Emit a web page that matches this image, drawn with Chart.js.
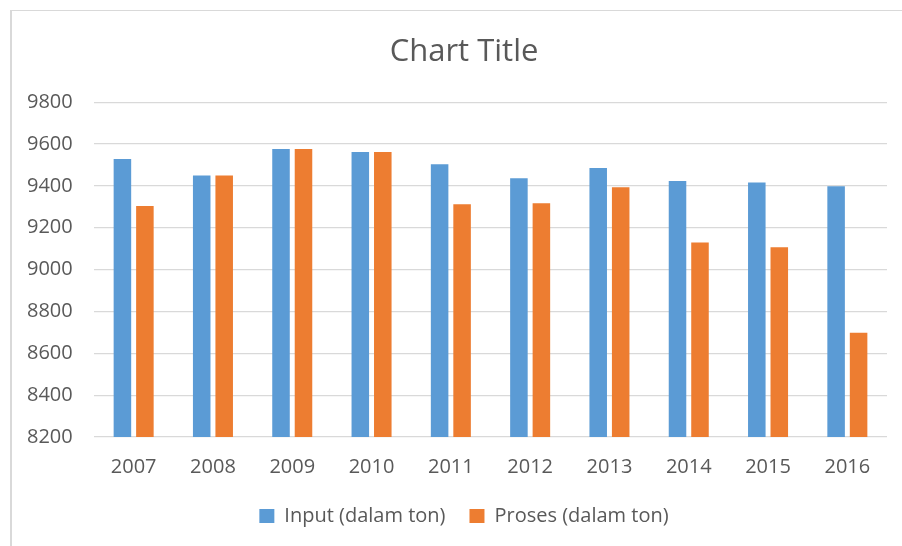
<!DOCTYPE html>
<html>
<head>
<meta charset="utf-8">
<script src="https://cdn.jsdelivr.net/npm/chart.js@4"></script>
<style>
    html, body { margin: 0; padding: 0; background: #fff; }
    #wrap { position: relative; width: 902px; height: 546px; overflow: hidden; }
    #frame {
        position: absolute; left: 10px; top: 10px; right: 0; bottom: -2px;
        border-top: 1px solid #d9d9d9; border-left: 2px solid #d9d9d9;
    }
    canvas { position: absolute; left: 0; top: 0; }
</style>
</head>
<body>
<div id="wrap">
    <div id="frame"></div>
    <canvas id="chart" width="902" height="546"></canvas>
</div>
<script>
    // --- DATA ---
    const years = ['2007', '2008', '2009', '2010', '2011', '2012', '2013', '2014', '2015', '2016'];
    const inputTon = [9528, 9450, 9576, 9562, 9504, 9437, 9486, 9424, 9416, 9398];
    const prosesTon = [9304, 9450, 9576, 9562, 9312, 9317, 9394, 9130, 9107, 8698];
    const yTicks = [8200, 8400, 8600, 8800, 9000, 9200, 9400, 9600, 9800];

    const textColor = '#595959';
    const fontFamily = '"Open Sans", Lato, sans-serif';

    const ctx = document.getElementById('chart').getContext('2d');

    new Chart(ctx, {
        type: 'bar',
        data: {
            labels: years,
            datasets: [
                {
                    label: 'Input (dalam ton)',
                    data: inputTon,
                    backgroundColor: '#5B9BD5',
                    categoryPercentage: 0.567,
                    barPercentage: 0.78
                },
                {
                    label: 'Proses (dalam ton)',
                    data: prosesTon,
                    backgroundColor: '#ED7D31',
                    categoryPercentage: 0.567,
                    barPercentage: 0.78
                }
            ]
        },
        options: {
            responsive: false,
            animation: false,
            layout: {
                // left padding shifts title/legend centre to match the frame
                padding: { left: 41, right: 15, top: 10, bottom: 10 }
            },
            plugins: {
                title: {
                    display: true,
                    text: 'Chart Title',
                    color: textColor,
                    font: { family: fontFamily, size: 31, weight: 'normal' },
                    padding: { top: 24, bottom: 31 }
                },
                legend: {
                    position: 'bottom',
                    labels: {
                        color: textColor,
                        font: { family: fontFamily, size: 20 },
                        boxWidth: 15,
                        boxHeight: 14,
                        padding: 24
                    }
                },
                tooltip: { enabled: false }
            },
            scales: {
                x: {
                    afterFit: (scale) => { scale.height = 45; },
                    grid: { display: false },
                    border: { display: false },
                    ticks: {
                        color: textColor,
                        font: { family: fontFamily, size: 20 },
                        padding: 10
                    }
                },
                y: {
                    min: yTicks[0],
                    max: yTicks[yTicks.length - 1],
                    afterFit: (scale) => { scale.width = 53; },
                    afterBuildTicks: (scale) => {
                        scale.ticks = yTicks.map(v => ({ value: v }));
                    },
                    grid: {
                        color: '#d9d9d9',
                        lineWidth: 1.3,
                        drawTicks: false
                    },
                    border: { display: false },
                    ticks: {
                        // mirror avoids clipping to the narrow scale box; negative padding puts labels back on the left
                        mirror: true,
                        padding: -67,
                        color: textColor,
                        font: { family: fontFamily, size: 20 },
                        callback: (value) => String(value)
                    }
                }
            }
        }
    });
</script>
</body>
</html>
